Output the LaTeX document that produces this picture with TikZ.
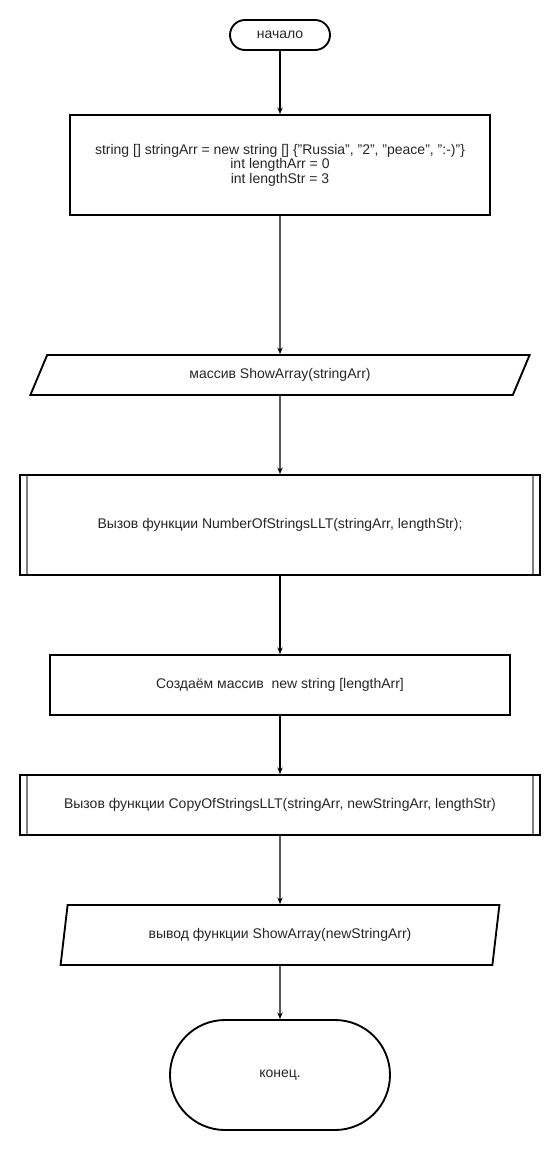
\documentclass[tikz,border=0pt]{standalone}
\usepackage{fontspec}
\setmainfont{Liberation Sans}
\usetikzlibrary{shapes.geometric,arrows.meta}
\newcommand\dq{\symbol{34}}

\tikzset{
  startstop/.style={draw,rectangle,rounded corners=11.25pt,minimum width=75pt,minimum height=22.5pt},
  process/.style={draw,rectangle},
  subproc/.style={draw,rectangle,
    path picture={
      \draw[gray,line width=1pt]
        ([xshift=5.25pt]path picture bounding box.north west) -- ([xshift=5.25pt]path picture bounding box.south west)
        ([xshift=-5.25pt]path picture bounding box.north east) -- ([xshift=-5.25pt]path picture bounding box.south east);
    }},
  io/.style={draw,trapezium,trapezium stretches=true},
}

\begin{document}
\begin{tikzpicture}[x=0.75pt,y=-0.75pt,font=\fontsize{10.5}{9.6}\selectfont]
        \useasboundingbox (0,0) rectangle (560,1150);
        \begin{scope}[every node/.style={line width=1.4pt,inner sep=0pt,align=center,text=black!85}]
          \node[startstop] (start) at (280,35) {начало};
          \node[process,minimum width=315pt,minimum height=75pt] (init) at (280,165)
            {string [] stringArr = new string [] \{\dq Russia\dq, \dq 2\dq, \dq peace\dq, \dq:-)\dq\}\\int lengthArr = 0\\int lengthStr = 3};
          \node[io,trapezium left angle=63.4,trapezium right angle=116.6,minimum width=375pt,minimum height=30pt] (show1) at (280,375)
            {массив ShowArray(stringArr)};
          \node[subproc,minimum width=390pt,minimum height=75pt] (count) at (280,525)
            {Вызов функции NumberOfStringsLLT(stringArr, lengthStr);};
          \node[process,minimum width=345pt,minimum height=45pt] (newarr) at (280,685)
            {Создаём массив\ \ new string [lengthArr]};
          \node[subproc,minimum width=390pt,minimum height=45pt] (copy) at (280,805)
            {Вызов функции CopyOfStringsLLT(stringArr, newStringArr, lengthStr)};
          \node[io,trapezium left angle=71.6,trapezium right angle=108.4,minimum width=330pt,minimum height=45pt] (show2) at (280,935)
            {вывод функции ShowArray(newStringArr)};
          \node[startstop,rounded corners=41.25pt,minimum width=165pt,minimum height=82.5pt] (stop) at (280,1075) {конец.};
        \end{scope}
        \begin{scope}[every edge/.style={draw=black,line width=0.9pt,-{Stealth[length=5pt,width=4pt]}}]
          \path (start) edge (init);
          \path (init) edge (show1);
          \path (show1) edge (count);
          \path (count) edge (newarr);
          \path (newarr) edge (copy);
          \path (copy) edge (show2);
          \path (show2) edge (stop);
        \end{scope}
      \end{tikzpicture}
\end{document}
